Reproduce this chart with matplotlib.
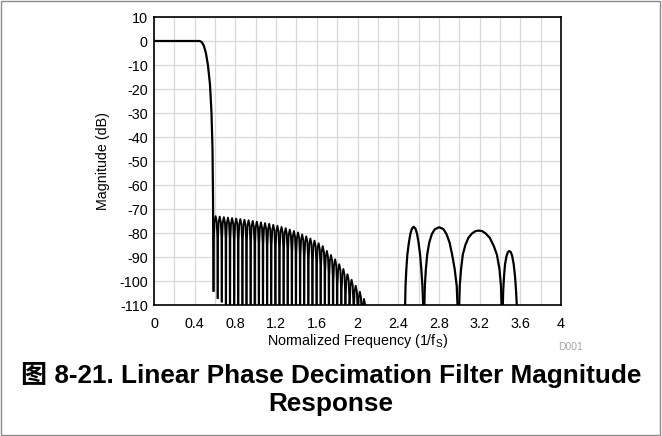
import numpy as np
import matplotlib.pyplot as plt
from matplotlib.patches import Rectangle

plt.rcParams['font.family'] = ['Liberation Sans', 'DejaVu Sans']
plt.rcParams['axes.unicode_minus'] = False

# passband and transition band
pass_f = [0, 0.45, 0.47, 0.49, 0.51, 0.53, 0.55, 0.565, 0.575, 0.58, 0.585]
pass_db = [0, 0, -0.5, -2, -5, -10, -18, -30, -45, -65, -104]

# stopband ripple: null positions, null depths, lobe peak levels
stop_null_f = [0.585, 0.626, 0.666, 0.707, 0.747, 0.788, 0.828, 0.869, 0.909, 0.950,
               0.990, 1.031, 1.071, 1.112, 1.152, 1.193, 1.233, 1.274, 1.314, 1.355,
               1.395, 1.436, 1.476, 1.517, 1.557, 1.598, 1.638, 1.679, 1.719, 1.760,
               1.800, 1.841, 1.881, 1.922, 1.962, 2.003, 2.043, 2.084]
stop_null_db = [-104, -107, -108.5] + [-140] * 35
stop_peak_db = [-73.0, -73.2, -73.4, -73.6, -73.8, -74.0, -74.2, -74.5, -74.7, -75.0,
                -75.3, -75.6, -75.9, -76.2, -76.6, -77.0, -77.5, -78.0, -78.6, -79.2,
                -79.8, -80.6, -81.4, -82.3, -83.2, -84.3, -85.5, -87.5, -89.2, -91.0,
                -93.0, -95.0, -97.2, -99.5, -102.0, -104.5, -107.5]

# aliased lobes above 2.4
alias_a_f = [2.467, 2.472, 2.48, 2.49, 2.505, 2.52, 2.535, 2.552, 2.57, 2.585, 2.60,
             2.615, 2.627, 2.638, 2.647]
alias_a_db = [-112, -102, -95, -89, -84, -80.3, -78.2, -77.4, -78.2, -80.3, -84,
              -89, -95, -102, -112]
alias_b_f = [2.656, 2.662, 2.672, 2.685, 2.705, 2.73, 2.76, 2.803, 2.845, 2.875, 2.905,
             2.93, 2.955, 2.975, 2.985]
alias_b_db = [-112, -102, -95, -89, -84, -80.5, -78.4, -77.6, -78.4, -80.5, -84,
              -89, -95, -102, -112]
alias_c_f = [2.998, 3.005, 3.018, 3.035, 3.06, 3.09, 3.125, 3.16, 3.19, 3.225, 3.26,
             3.30, 3.34, 3.37, 3.395, 3.41, 3.417]
alias_c_db = [-112, -102, -95, -89, -85, -82, -80.2, -79.2, -79.0, -79.2, -80.2,
              -82, -85.5, -89, -95, -102, -112]
alias_d_f = [3.427, 3.432, 3.44, 3.45, 3.465, 3.478, 3.492, 3.507, 3.52, 3.535, 3.548,
             3.558, 3.568]
alias_d_db = [-112, -104, -98, -93, -89.5, -88, -87.5, -88, -89.5, -93, -98, -104, -112]

x_ticks = [0, 0.4, 0.8, 1.2, 1.6, 2, 2.4, 2.8, 3.2, 3.6, 4]
x_labels = ['0', '0.4', '0.8', '1.2', '1.6', '2', '2.4', '2.8', '3.2', '3.6', '4']
y_ticks = [10, 0, -10, -20, -30, -40, -50, -60, -70, -80, -90, -100, -110]

fig = plt.figure(figsize=(6.62, 4.36), dpi=100)
ax = fig.add_axes([154 / 662, 1 - 305 / 436, 407 / 662, 288 / 436])

ax.plot(pass_f, pass_db, color='black', lw=1.6, solid_joinstyle='round')

# each stopband lobe: steep sides, rounded top
for i, pk in enumerate(stop_peak_db):
    f0, f1 = stop_null_f[i], stop_null_f[i + 1]
    w = f1 - f0
    xs = [f0, f0 + 0.07 * w, f0 + 0.22 * w, f0 + 0.5 * w, f0 + 0.78 * w, f0 + 0.93 * w, f1]
    ys = [stop_null_db[i], pk - 9, pk - 2.5, pk, pk - 2.5, pk - 9, stop_null_db[i + 1]]
    ax.plot(xs, ys, color='black', lw=1.4, solid_joinstyle='round')

for f, db in [(alias_a_f, alias_a_db), (alias_b_f, alias_b_db),
              (alias_c_f, alias_c_db), (alias_d_f, alias_d_db)]:
    ax.plot(f, db, color='black', lw=1.6, solid_joinstyle='round')

ax.set_xlim(0, 4)
ax.set_ylim(-110, 10)
ax.set_xticks(x_ticks)
ax.set_xticklabels(x_labels)
ax.set_xticks(np.arange(0, 4.01, 0.2), minor=True)
ax.set_yticks(y_ticks)
ax.grid(True, which='both', color='#d9d9d9', lw=0.9)
ax.set_axisbelow(True)
ax.tick_params(which='both', length=0, labelsize=10.4)
ax.tick_params(axis='x', pad=8.5)
ax.tick_params(axis='y', pad=4.5)
for s in ax.spines.values():
    s.set_linewidth(1.2)

ax.set_xlabel(r'Normalized Frequency (1/f$_\mathregular{S}$)', fontsize=10.3, labelpad=1)
ax.set_ylabel('Magnitude (dB)', fontsize=10.3, labelpad=6.5)

fig.text(571 / 662, 1 - 347 / 436, 'D001', color='#a8a8a8', fontsize=7.5,
         ha='center', va='center')
fig.text(0.5, 1 - 389 / 436,
         '图 8-21. Linear Phase Decimation Filter Magnitude\nResponse',
         family=['Liberation Sans', 'Noto Sans CJK SC'],
         fontweight='bold', fontsize=18.8, ha='center', va='center', linespacing=1.2)

fig.patches.append(Rectangle((0.002, 0.002), 0.995, 0.995, transform=fig.transFigure,
                             fill=False, edgecolor='#8a8a8a', lw=1))

fig.savefig('out.png', dpi=100)
